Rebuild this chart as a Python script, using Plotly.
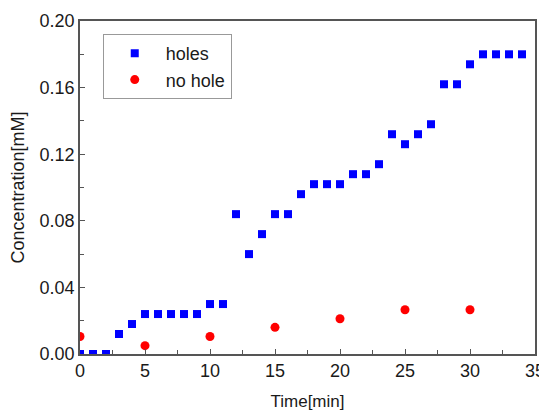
import plotly.graph_objects as go

time_holes = list(range(0, 35))
conc_holes = [0.0, 0.0, 0.0, 0.012, 0.018, 0.024, 0.024, 0.024, 0.024, 0.024,
              0.030, 0.030, 0.084, 0.060, 0.072, 0.084, 0.084, 0.096, 0.102, 0.102,
              0.102, 0.108, 0.108, 0.114, 0.132, 0.126, 0.132, 0.138, 0.162, 0.162,
              0.174, 0.180, 0.180, 0.180, 0.180]
time_nohole = [0, 5, 10, 15, 20, 25, 30]
conc_nohole = [0.0105, 0.005, 0.0105, 0.016, 0.0212, 0.0266, 0.0266]

x_ticks = [0, 5, 10, 15, 20, 25, 30, 35]
y_ticks = [0.0, 0.04, 0.08, 0.12, 0.16, 0.20]

fig = go.Figure()
fig.add_trace(go.Scatter(x=time_holes, y=conc_holes, mode="markers", name="holes",
                         marker=dict(symbol="square", size=8, color="#0000ff")))
fig.add_trace(go.Scatter(x=time_nohole, y=conc_nohole, mode="markers", name="no hole",
                         marker=dict(symbol="circle", size=9, color="#ff0000")))

font = "Liberation Sans, Arial, sans-serif"
# page body has an 8px margin, so the figure is shrunk and margins offset by 8px
fig.update_layout(
    width=539, height=403,
    margin=dict(l=72, r=12, t=13, b=57),
    paper_bgcolor="white", plot_bgcolor="white",
    font=dict(family=font, color="#1a1a1a"),
    showlegend=True,
    legend=dict(x=0.05, y=0.961, xanchor="left", yanchor="top",
                bordercolor="#999999", borderwidth=1, bgcolor="white",
                font=dict(size=18, family=font), itemwidth=52),
    xaxis=dict(range=[0, 35], tickvals=x_ticks, ticktext=[str(v) for v in x_ticks],
               ticks="inside", ticklen=5, tickwidth=1, tickcolor="#555555",
               minor=dict(ticks="inside", ticklen=4, tickcolor="#555555", dtick=2.5),
               showline=True, linecolor="#555555", linewidth=1.5, mirror=True,
               showgrid=False, zeroline=False, automargin=False,
               tickfont=dict(size=18, family=font),
               title=dict(text="Time[min]", font=dict(size=17, family=font), standoff=15)),
    yaxis=dict(range=[0, 0.2], tickvals=y_ticks, ticktext=[f"{v:.2f}" for v in y_ticks],
               ticks="inside", ticklen=5, tickwidth=1, tickcolor="#555555",
               minor=dict(ticks="inside", ticklen=4, tickcolor="#555555", dtick=0.02),
               showline=True, linecolor="#555555", linewidth=1.5, mirror=True,
               showgrid=False, zeroline=False, automargin=False,
               tickfont=dict(size=18, family=font),
               title=dict(text="Concentration[mM]", font=dict(size=18, family=font), standoff=10)),
)
fig.write_html("out.html")
